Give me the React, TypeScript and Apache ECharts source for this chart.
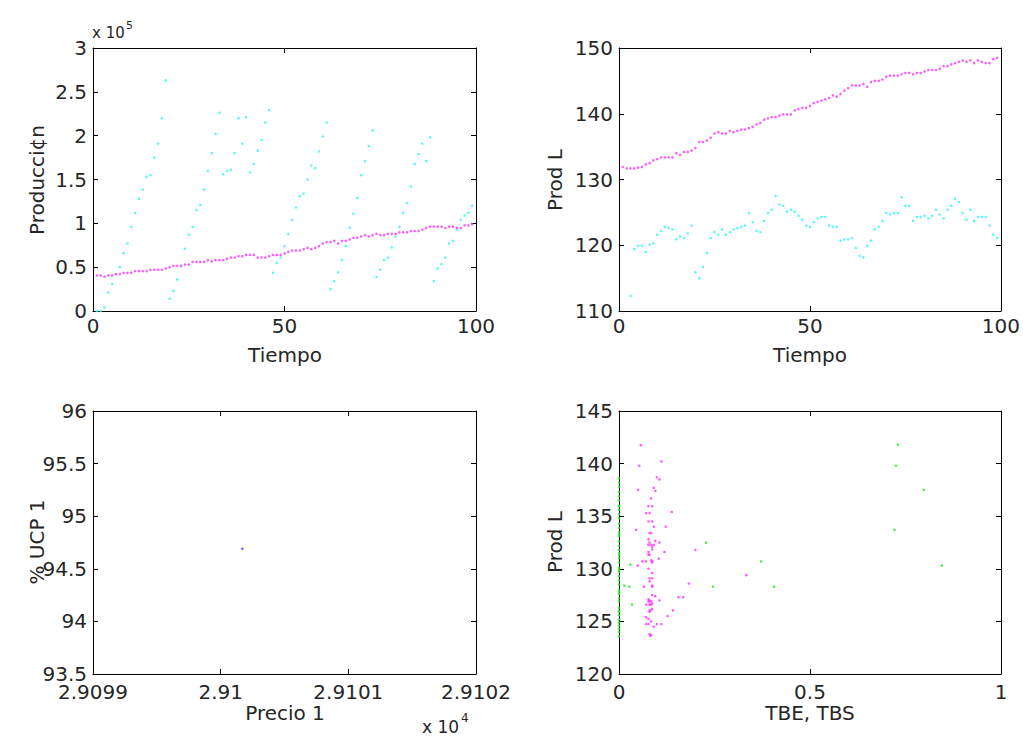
import React, { useEffect, useRef } from "react";
import * as echarts from "echarts";

// ---------- DATA ----------
// Top-left: Producción (x 10^5) vs Tiempo, t = 1..99
const prodTotal = [
  0.405, 0.405, 0.39, 0.405, 0.405, 0.42, 0.42, 0.435, 0.435, 0.435,
  0.455, 0.455, 0.455, 0.455, 0.47, 0.47, 0.47, 0.47, 0.485, 0.5,
  0.515, 0.515, 0.515, 0.53, 0.53, 0.56, 0.56, 0.56, 0.56, 0.58,
  0.565, 0.58, 0.58, 0.58, 0.595, 0.61, 0.61, 0.625, 0.625, 0.64,
  0.64, 0.64, 0.61, 0.61, 0.61, 0.625, 0.64, 0.64, 0.64, 0.656,
  0.675, 0.69, 0.69, 0.69, 0.705, 0.72, 0.705, 0.72, 0.74, 0.77,
  0.786, 0.786, 0.8, 0.77, 0.8, 0.8, 0.817, 0.835, 0.835, 0.85,
  0.866, 0.85, 0.866, 0.88, 0.866, 0.866, 0.88, 0.88, 0.88, 0.897,
  0.897, 0.897, 0.912, 0.912, 0.912, 0.927, 0.947, 0.962, 0.962, 0.962,
  0.962, 0.947, 0.962, 0.962, 0.947, 0.947, 0.977, 0.977, 0.99,
];
const prodLinea = [
  0, 0, 0.04, 0.21, 0.31, 0.42, 0.5, 0.66, 0.77, 0.96,
  1.12, 1.28, 1.385, 1.53, 1.55, 1.75, 1.91, 2.2, 2.63, 0.14,
  0.23, 0.36, 0.515, 0.71, 0.87, 0.96, 1.15, 1.21, 1.385, 1.595,
  1.8, 2.02, 2.26, 1.56, 1.595, 1.61, 1.8, 2.2, 1.91, 2.21,
  1.58, 1.675, 1.83, 1.95, 2.15, 2.29, 0.435, 0.55, 0.61, 0.74,
  0.88, 1.04, 1.18, 1.31, 1.34, 1.5, 1.66, 1.63, 1.82, 1.99,
  2.15, 0.25, 0.34, 0.44, 0.58, 0.74, 0.95, 1.11, 1.29, 1.55,
  1.71, 1.88, 2.06, 0.39, 0.47, 0.58, 0.61, 0.725, 0.85, 0.96,
  1.12, 1.23, 1.42, 1.675, 1.79, 1.91, 1.71, 1.98, 0.34, 0.485,
  0.535, 0.61, 0.77, 0.8, 0.93, 1.04, 1.09, 1.12, 1.2,
];
const tiempoInicio = 1;

// Top-right: Prod L vs Tiempo
const prodLMagenta = [
  131.9, 131.7, 131.7, 131.7, 131.8, 131.9, 132.3, 132.5, 132.9, 133.1,
  133.35, 133.35, 133.35, 133.35, 134.0, 133.75, 134.2, 134.2, 134.4, 134.8,
  135.7, 135.7, 135.9, 136.35, 137.0, 137.2, 137.0, 137.0, 137.4, 137.2,
  137.4, 137.6, 137.6, 137.8, 138.0, 138.4, 138.6, 139.1, 139.3, 139.5,
  139.5, 139.7, 139.9, 139.9, 139.9, 140.5, 140.7, 140.9, 140.9, 141.2,
  141.6, 141.8, 142.0, 142.2, 142.4, 142.8, 142.6, 143.0, 143.5, 143.9,
  144.3, 144.3, 144.3, 144.5, 144.1, 144.8, 145.0, 145.0, 145.2, 145.6,
  145.8, 145.8, 145.8, 146.0, 146.2, 146.2, 146.0, 146.2, 146.2, 146.45,
  146.65, 146.65, 146.65, 146.85, 147.25, 147.25, 147.5, 147.7, 147.9, 148.1,
  147.9, 148.1, 147.7, 148.1, 147.9, 147.7, 147.7, 148.3, 148.5,
];
const prodLCian = [
  112.3, 119.4, 119.9, 119.9, 119.0, 120.1, 120.3, 121.6,
  122.2, 122.8, 122.6, 122.4, 120.9, 121.3, 121.1, 121.8, 123.0, 115.9,
  115.0, 116.7, 118.8, 121.1, 122.0, 121.6, 122.4, 121.6, 122.0, 122.4,
  122.6, 122.8, 123.0, 124.9, 123.5, 122.2, 122.0, 123.7, 124.9, 125.4,
  127.5, 126.2, 126.0, 125.1, 125.4, 125.1, 124.5, 123.9, 123.0, 122.8,
  123.5, 124.1, 124.3, 124.3, 123.0, 122.8, 122.8, 120.7, 120.9, 120.9,
  121.1, 119.6, 118.4, 118.2, 119.9, 120.7, 122.4, 122.8, 123.7, 124.9,
  124.7, 124.9, 124.9, 127.3, 126.0, 126.0, 123.7, 124.3, 124.3, 124.5,
  124.1, 124.5, 125.4, 124.7, 124.1, 125.4, 126.0, 127.1, 126.6, 124.9,
  123.9, 125.4, 123.7, 124.3, 124.3, 124.3, 123.0, 121.6, 121.1,
];
const tiempoInicioCian = 3;

// Bottom-left: % UCP 1 vs Precio 1
const precio1 = [29100.17];
const ucp1 = [94.69];

// Bottom-right: Prod L vs TBE, TBS
const tbsX = [
  0.057, 0.053, 0.111, 0.099, 0.106, 0.05, 0.091, 0.095, 0.084, 0.077,
  0.087, 0.071, 0.08, 0.138, 0.077, 0.087, 0.091, 0.122, 0.045, 0.08,
  0.084, 0.077, 0.095, 0.106, 0.08, 0.077, 0.084, 0.091, 0.087, 0.087,
  0.077, 0.119, 0.077, 0.08, 0.104, 0.061, 0.071, 0.084, 0.087, 0.087,
  0.049, 0.077, 0.087, 0.08, 0.087, 0.08, 0.183, 0.065, 0.087, 0.087,
  0.087, 0.095, 0.077, 0.08, 0.156, 0.168, 0.106, 0.077, 0.08, 0.084,
  0.071, 0.08, 0.084, 0.087, 0.141, 0.08, 0.084, 0.087, 0.08, 0.127,
  0.071, 0.077, 0.084, 0.071, 0.077, 0.099, 0.111, 0.091, 0.08, 0.084,
  0.082, 0.2, 0.333,
];
const tbsY = [
  141.76, 139.8, 140.2, 138.7, 138.5, 137.5, 137.7, 137.4, 136.7, 135.95,
  135.95, 135.3, 135.3, 135.4, 134.5, 134.5, 134.0, 134.0, 133.7, 133.4,
  133.4, 132.8, 132.65, 132.5, 132.5, 132.27, 132.27, 132.27, 132.1, 131.85,
  131.6, 131.6, 131.35, 131.35, 130.97, 130.7, 130.7, 130.8, 130.7, 130.6,
  130.3, 130.0, 129.6, 129.1, 129.1, 128.8, 128.6, 128.3, 128.3, 128.4,
  127.5, 127.4, 127.1, 127.0, 127.3, 127.3, 127.0, 126.9, 126.9, 126.9,
  126.6, 126.6, 126.6, 126.7, 126.05, 126.05, 126.05, 126.2, 125.9, 125.5,
  125.4, 125.25, 125.0, 124.75, 124.75, 124.75, 124.75, 124.5, 123.8, 123.7,
  123.65, 131.8, 129.4,
];
const tbeX = [
  0.014, 0.027, 0.03, 0.034, 0.228, 0.246, 0.372, 0.406, 0.73, 0.725, 0.798, 0.721, 0.845,
  0, 0, 0, 0, 0, 0, 0, 0, 0, 0, 0, 0, 0, 0, 0, 0, 0, 0, 0, 0,
  0, 0, 0, 0, 0, 0, 0, 0, 0, 0, 0, 0, 0, 0, 0, 0, 0, 0, 0, 0,
  0, 0, 0, 0, 0, 0, 0,
];
const tbeY = [
  128.4, 128.3, 130.4, 126.6, 132.5, 128.3, 130.7, 128.3, 141.8, 139.8, 137.5, 133.7, 130.3,
  123.6, 124.0, 124.3, 124.9, 125.2, 125.6, 126.0, 126.3, 126.9, 127.2, 127.6, 128.0, 128.5, 128.9, 129.3, 129.7, 130.1, 130.6,
  131.0, 131.3, 131.8, 132.2, 132.6, 133.1, 133.5, 133.9, 134.3, 134.8, 135.2, 135.6, 136.0, 136.5, 136.9, 137.3, 137.8, 138.2,
  138.6, 127.8, 125.9, 129.9, 131.5, 133.3, 135.9, 124.6,
];

// ---------- STYLE ----------
const FONT = "DejaVu Sans";
const TXT = "#262626";
const FS = 20;

function xAxes(grid: number, min: number, max: number, interval: number, margin: number, fmt?: (v: number) => string) {
  const base = {
    type: "value",
    gridIndex: grid,
    min,
    max,
    interval,
    splitLine: { show: false },
    axisLine: { show: true, onZero: false, lineStyle: { color: "#000", width: 1 } },
    axisTick: { show: true, inside: true, length: 5, lineStyle: { color: "#000", width: 1 } },
  };
  return [
    {
      ...base,
      position: "bottom",
      axisLabel: {
        show: true,
        margin,
        color: TXT,
        fontFamily: FONT,
        fontSize: FS,
        showMinLabel: true,
        showMaxLabel: true,
        formatter: fmt ? (v: number) => fmt(v) : (v: number) => String(v),
      },
    },
    { ...base, position: "top", axisLabel: { show: false } },
  ];
}

function yAxes(grid: number, min: number, max: number, interval: number) {
  const base = {
    type: "value",
    gridIndex: grid,
    min,
    max,
    interval,
    splitLine: { show: false },
    axisLine: { show: true, onZero: false, lineStyle: { color: "#000", width: 1 } },
    axisTick: { show: true, inside: true, length: 5, lineStyle: { color: "#000", width: 1 } },
  };
  return [
    {
      ...base,
      position: "left",
      axisLabel: {
        show: true,
        margin: 6,
        color: TXT,
        fontFamily: FONT,
        fontSize: FS,
        showMinLabel: true,
        showMaxLabel: true,
        formatter: (v: number) => String(v),
      },
    },
    { ...base, position: "right", axisLabel: { show: false } },
  ];
}

function dots(grid: number, data: number[][], color: string, size = 2.6) {
  return {
    type: "scatter",
    xAxisIndex: grid * 2,
    yAxisIndex: grid * 2,
    data,
    symbol: "circle",
    symbolSize: size,
    itemStyle: { color },
    emphasis: { disabled: true },
    silent: true,
  };
}

function label(text: string, x: number, y: number, vertical = false) {
  return {
    type: "text",
    x,
    y,
    rotation: vertical ? Math.PI / 2 : 0,
    style: {
      text,
      fill: TXT,
      font: `${FS}px "${FONT}"`,
      textAlign: "center",
      textVerticalAlign: "middle",
    },
  };
}

function smallText(text: string, x: number, y: number, size: number) {
  return {
    type: "text",
    x,
    y,
    style: {
      text,
      fill: TXT,
      font: `${size}px "${FONT}"`,
      textAlign: "left",
      textVerticalAlign: "middle",
    },
  };
}

export default function App() {
  const ref = useRef<HTMLDivElement>(null);

  useEffect(() => {
    if (!ref.current) return;
    const chart = echarts.init(ref.current, undefined, { renderer: "svg" });

    const grids = [
      { left: 93, top: 48, width: 383, height: 263 },
      { left: 619, top: 48, width: 382, height: 263 },
      { left: 93, top: 411, width: 383, height: 263 },
      { left: 619, top: 411, width: 382, height: 263 },
    ];

    const option = {
      animation: false,
      backgroundColor: "#fff",
      grid: grids.map((g) => ({ ...g, containLabel: false })),
      xAxis: [
        ...xAxes(0, 0, 100, 50, 5),
        ...xAxes(1, 0, 100, 50, 5),
        ...xAxes(2, 29099, 29102, 1, 8, (v) => String(v / 10000)),
        ...xAxes(3, 0, 1, 0.5, 8),
      ],
      yAxis: [
        ...yAxes(0, 0, 3, 0.5),
        ...yAxes(1, 110, 150, 10),
        ...yAxes(2, 93.5, 96, 0.5),
        ...yAxes(3, 120, 145, 5),
      ],
      series: [
        dots(0, prodLinea.map((v, i) => [i + tiempoInicio, v]), "#33f5f5"),
        dots(0, prodTotal.map((v, i) => [i + tiempoInicio, v]), "#ff33ff"),
        dots(1, prodLCian.map((v, i) => [i + tiempoInicioCian, v]), "#33f5f5"),
        dots(1, prodLMagenta.map((v, i) => [i + 1, v]), "#ff33ff"),
        dots(2, precio1.map((v, i) => [v, ucp1[i]]), "#2020ff", 2.4),
        dots(3, tbsX.map((v, i) => [v, tbsY[i]]), "#ff33ff"),
        dots(3, tbeX.map((v, i) => [v, tbeY[i]]), "#22ee22"),
      ],
      graphic: [
        label("Producci¢n", 37, 180, true),
        label("Prod L", 555, 180, true),
        label("% UCP 1", 37, 542, true),
        label("Prod L", 555, 542, true),
        label("Tiempo", 285, 355),
        label("Tiempo", 810, 355),
        label("Precio 1", 285, 713),
        label("TBE, TBS", 810, 713),
        smallText("x 10", 92, 33, 15),
        smallText("5", 126, 25, 11),
        smallText("x 10", 422, 727, 17),
        smallText("4", 461, 718, 12),
      ],
    };

    chart.setOption(option as any);
    return () => chart.dispose();
  }, []);

  return (
    <div
      ref={ref}
      style={{ position: "fixed", left: 0, top: 0, width: 1023, height: 736, background: "#fff" }}
    />
  );
}
